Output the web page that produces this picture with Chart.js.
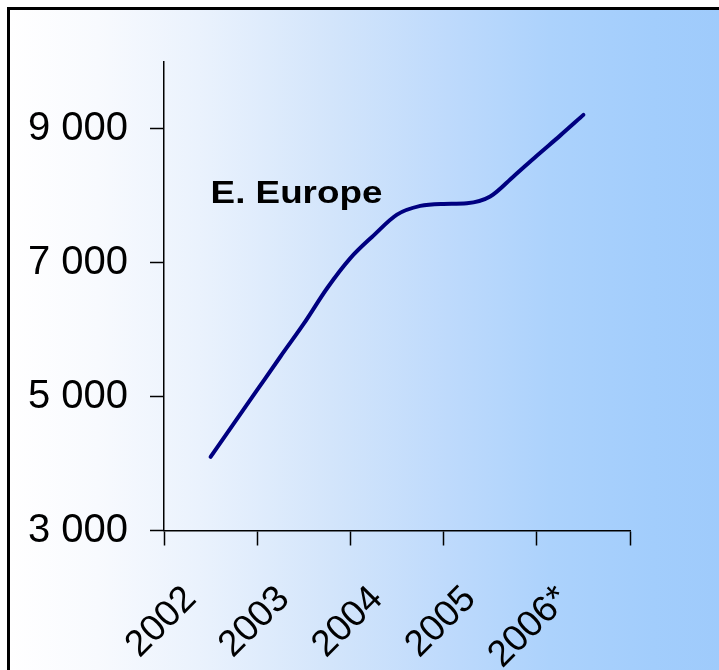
<!DOCTYPE html>
<html>
<head>
<meta charset="utf-8">
<script src="https://cdn.jsdelivr.net/npm/chart.js@4/dist/chart.umd.min.js"></script>
<style>
html,body{margin:0;padding:0;width:719px;height:670px;overflow:hidden;background:#ffffff;}
#frame{position:absolute;left:7px;top:7px;width:730px;height:700px;border:3px solid #000;
background:linear-gradient(to right,#ffffff 0%,#f8fafe 12%,#eaf2fd 26%,#d3e5fb 44%,#bedafc 60%,#acd2fc 74%,#a2cdfc 88%,#9ecafb 100%);}
#c{position:absolute;left:0;top:0;}
</style>
</head>
<body>
<div id="frame"></div>
<canvas id="c" width="719" height="670"></canvas>
<script>
// ---- data ----
const yearLabels = ['2002', '2003', '2004', '2005', '2006*'];
const quarterTimes = [2002, 2002.25, 2002.5, 2002.75, 2003, 2003.25, 2003.5, 2003.75, 2004,
                      2004.25, 2004.5, 2004.75, 2005, 2005.25, 2005.5, 2005.75, 2006];
const eEuropeValues = [4100, 4600, 5100, 5600, 6090, 6620, 7070, 7410, 7720,
                       7850, 7880, 7890, 7990, 8290, 8600, 8900, 9210];
const yTickValues = [3000, 5000, 7000, 9000];
const yMin = 3000, yMax = 10000;
const seriesLabel = 'E. Europe';
const labelAnchor = {x: 2002, y: 7890};

const firstYear = 2002;
const fontFamily = '"Liberation Sans", Arial, sans-serif';

function fmtThousands(v) {
  return String(v).replace(/\B(?=(\d{3})+(?!\d))/g, ' ');
}
function isWhole(v) { return Math.abs(v - Math.round(v)) < 1e-6; }

const labelPlugin = {
  id: 'seriesLabel',
  afterDatasetsDraw(chart) {
    const ctx = chart.ctx;
    const x = chart.scales.x.getPixelForValue(labelAnchor.x);
    const y = chart.scales.y.getPixelForValue(labelAnchor.y);
    ctx.save();
    ctx.font = 'bold 32px ' + fontFamily;
    ctx.fillStyle = '#000';
    ctx.textAlign = 'left';
    ctx.textBaseline = 'alphabetic';
    ctx.translate(x, y);
    ctx.scale(1.15, 1);
    ctx.fillText(seriesLabel, 0, 0);
    ctx.restore();
  }
};

new Chart(document.getElementById('c'), {
  type: 'line',
  data: {
    datasets: [{
      label: seriesLabel,
      data: quarterTimes.map((t, i) => ({x: t, y: eEuropeValues[i]})),
      borderColor: '#000080',
      borderWidth: 4,
      borderCapStyle: 'round',
      borderJoinStyle: 'round',
      pointRadius: 0,
      cubicInterpolationMode: 'monotone',
      fill: false
    }]
  },
  options: {
    responsive: false,
    animation: false,
    layout: {padding: {left: 0, top: 62, right: 89, bottom: 0}},
    plugins: {legend: {display: false}, tooltip: {enabled: false}},
    scales: {
      x: {
        type: 'linear',
        min: firstYear - 0.5,
        max: firstYear + yearLabels.length - 0.5,
        afterBuildTicks(scale) {
          const t = [];
          yearLabels.forEach((lab, i) => {
            t.push({value: firstYear + i - 0.5});
            t.push({value: firstYear + i});
          });
          t.push({value: firstYear + yearLabels.length - 0.5});
          scale.ticks = t;
        },
        afterFit(scale) { scale.height = 139.5; },
        grid: {
          drawOnChartArea: false,
          drawTicks: true,
          tickLength: 15,
          tickWidth: 1.5,
          tickColor: (c) => (c.tick && isWhole(c.tick.value)) ? 'rgba(0,0,0,0)' : '#000'
        },
        border: {display: true, color: '#000', width: 1.5},
        ticks: {
          autoSkip: false,
          minRotation: 45,
          maxRotation: 45,
          padding: 32,
          labelOffset: -20,
          color: '#000',
          font: {family: fontFamily, size: 37},
          callback: (v) => isWhole(v) ? yearLabels[Math.round(v) - firstYear] : ''
        }
      },
      y: {
        type: 'linear',
        min: yMin,
        max: yMax,
        afterBuildTicks(scale) { scale.ticks = yTickValues.map(v => ({value: v})); },
        afterFit(scale) { scale.width = 164; },
        grid: {
          drawOnChartArea: false,
          drawTicks: true,
          tickLength: 14,
          tickWidth: 1.5,
          tickColor: '#000'
        },
        border: {display: true, color: '#000', width: 1.5},
        ticks: {
          padding: 22,
          color: '#000',
          font: {family: fontFamily, size: 40},
          callback: (v) => fmtThousands(v)
        }
      }
    }
  },
  plugins: [labelPlugin]
});
</script>
</body>
</html>
